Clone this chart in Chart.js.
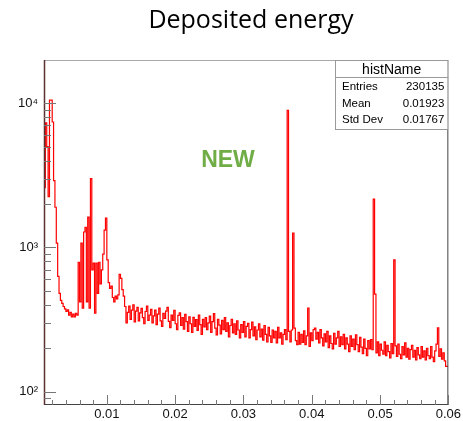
<!DOCTYPE html>
<html>
<head>
<meta charset="utf-8">
<script src="https://cdn.jsdelivr.net/npm/chart.js@4/dist/chart.umd.min.js"></script>
<style>
  body { margin: 0; background: #fff; }
  #wrap { width: 463px; height: 421px; }
</style>
</head>
<body>
<div id="wrap"><canvas id="c" width="463" height="421"></canvas></div>
<script>
// histogram: low edge of first bin, bin width, counts per bin
const binLow = 0.0008;
const binWidth = 0.0002;
const counts = [
  1300, 2600, 7300, 5000, 2250, 10500, 10500, 7400, 2900, 1900,
  1070, 630, 480, 430, 410, 390, 375, 360, 370, 340,
  355, 330, 345, 330, 350, 340, 790, 420, 1070, 380,
  1280, 1380, 420, 1620, 380, 3000, 700, 780, 350, 780,
  480, 790, 560, 700, 900, 1320, 1600, 820, 570, 520,
  540, 450, 420, 460, 440, 470, 650, 610, 510, 460,
  390, 300, 355, 392, 318, 368, 400, 305, 362, 385,
  310, 352, 378, 326, 296, 360, 392, 312, 340, 372,
  300, 336, 368, 292, 345, 380, 310, 284, 350, 322,
  362, 384, 308, 278, 340, 312, 366, 296, 270, 338,
  352, 288, 326, 272, 344, 306, 262, 330, 296, 258,
  328, 284, 316, 266, 340, 292, 250, 318, 282, 326,
  270, 300, 334, 258, 306, 348, 276, 248, 318, 290,
  252, 312, 270, 326, 262, 300, 240, 288, 318, 256,
  296, 250, 310, 268, 236, 292, 258, 306, 240, 284,
  298, 236, 270, 304, 244, 282, 230, 268, 296, 240,
  272, 228, 288, 250, 222, 280, 244, 220, 268, 236,
  262, 218, 280, 236, 256, 214, 250, 270, 230, 8900,
  262, 222, 268, 1260, 276, 226, 212, 258, 214, 250,
  220, 264, 212, 244, 380, 206, 256, 226, 270, 276,
  232, 258, 218, 270, 236, 208, 252, 222, 262, 202,
  244, 216, 198, 254, 214, 236, 262, 206, 240, 212,
  250, 198, 236, 214, 190, 244, 206, 232, 196, 248,
  212, 190, 238, 204, 184, 232, 200, 178, 226, 198,
  230, 196, 2160, 475, 186, 222, 178, 214, 194, 182,
  222, 178, 210, 190, 172, 216, 184, 820, 208, 176,
  214, 182, 170, 206, 180, 218, 174, 200, 168, 196,
  210, 174, 194, 166, 202, 180, 170, 206, 174, 192,
  166, 200, 178, 170, 206, 174, 162, 192, 214, 277,
  176, 198, 168, 186, 164, 150
];

const xTicks = [0.01, 0.02, 0.03, 0.04, 0.05, 0.06];
const xTickLabels = ['0.01', '0.02', '0.03', '0.04', '0.05', '0.06'];
const yTicks = [100, 1000, 10000];
const yTickLabels = ['10\u00b2', '10\u00b3', '10\u2074'];

const statLabels = ['Entries', 'Mean', 'Std Dev'];
const statValues = ['230135', '0.01923', '0.01767'];

// step outline: one point per bin low edge, plus the upper edge of the last bin
const points = counts.map((c, i) => ({ x: binLow + i * binWidth, y: c }));
points.push({ x: binLow + counts.length * binWidth, y: counts[counts.length - 1] });

Chart.defaults.font.family = "'Liberation Sans', Arial, sans-serif";
Chart.defaults.color = '#000';

const rootStyle = {
  id: 'rootStyle',
  afterDatasetsDraw(chart) {
    const { ctx, chartArea: a, scales: { x, y } } = chart;
    ctx.save();
    ctx.lineWidth = 1;

    // frame
    ctx.strokeStyle = '#a8a8a8';
    ctx.beginPath(); ctx.moveTo(a.left, a.top + 0.5); ctx.lineTo(a.right, a.top + 0.5); ctx.stroke();
    ctx.strokeStyle = '#444';
    ctx.beginPath(); ctx.moveTo(a.right - 0.5, a.top); ctx.lineTo(a.right - 0.5, a.bottom); ctx.stroke();
    ctx.beginPath(); ctx.moveTo(a.left, a.bottom - 0.5); ctx.lineTo(a.right, a.bottom - 0.5); ctx.stroke();
    ctx.strokeStyle = '#5a3030';
    ctx.lineWidth = 1.5;
    ctx.beginPath(); ctx.moveTo(a.left + 0.5, a.top); ctx.lineTo(a.left + 0.5, a.bottom); ctx.stroke();

    // x ticks, pointing into the frame
    ctx.lineWidth = 1;
    ctx.strokeStyle = '#777';
    for (let k = 1; k <= 30; k++) {
      const px = Math.round(x.getPixelForValue(k * 0.002)) + 0.5;
      const len = k % 5 === 0 ? 10 : 5;
      ctx.beginPath(); ctx.moveTo(px, a.bottom); ctx.lineTo(px, a.bottom - len); ctx.stroke();
    }
    // y ticks (log)
    [10, 100, 1000, 10000].forEach(d => {
      for (let m = 1; m <= 9; m++) {
        const v = d * m;
        if (v < y.min || v > y.max) continue;
        const py = Math.round(y.getPixelForValue(v)) + 0.5;
        const len = m === 1 ? 12 : 7;
        ctx.beginPath(); ctx.moveTo(a.left, py); ctx.lineTo(a.left + len, py); ctx.stroke();
      }
    });

    // title
    ctx.fillStyle = '#000';
    ctx.font = "25px 'Open Sans', sans-serif";
    ctx.textAlign = 'center';
    ctx.textBaseline = 'middle';
    ctx.fillText('Deposited energy', 251, 21);

    // NEW label
    ctx.fillStyle = '#70ad47';
    ctx.font = "bold 23px 'Liberation Sans', Arial, sans-serif";
    ctx.fillText('NEW', 228, 161);

    // stats box
    const bx = 335, by = a.top, bw = a.right - bx, bh = 70;
    ctx.fillStyle = '#fff';
    ctx.fillRect(bx, by, bw, bh);
    ctx.strokeStyle = '#999';
    ctx.strokeRect(bx + 0.5, by + 0.5, bw - 1, bh - 1);
    ctx.beginPath(); ctx.moveTo(bx, by + 17.5); ctx.lineTo(bx + bw, by + 17.5); ctx.stroke();
    ctx.fillStyle = '#000';
    ctx.font = "14px 'Liberation Sans', Arial, sans-serif";
    ctx.fillText('histName', bx + bw / 2, by + 10);
    ctx.font = "11.5px 'Liberation Sans', Arial, sans-serif";
    statLabels.forEach((s, i) => {
      const ty = by + 27 + i * 16.5;
      ctx.textAlign = 'left';
      ctx.fillText(s, bx + 7, ty);
      ctx.textAlign = 'right';
      ctx.fillText(statValues[i], bx + bw - 4, ty);
    });
    ctx.restore();
  }
};

new Chart(document.getElementById('c'), {
  type: 'line',
  data: {
    datasets: [{
      data: points,
      stepped: 'after',
      borderColor: '#ff0000',
      borderWidth: 1.2,
      pointRadius: 0,
      fill: false
    }]
  },
  options: {
    responsive: false,
    animation: false,
    layout: { padding: { top: 60, right: 13, left: 0, bottom: 0 } },
    plugins: { legend: { display: false }, tooltip: { enabled: false } },
    scales: {
      x: {
        type: 'linear',
        min: binLow,
        max: 0.06,
        grid: { display: false, drawTicks: false, tickLength: 0 },
        border: { display: false },
        afterBuildTicks: s => { s.ticks = xTicks.map(v => ({ value: v })); },
        afterFit: s => { s.height = 16; },
        ticks: {
          autoSkip: false,
          maxRotation: 0,
          padding: 2,
          font: { size: 13 },
          color: '#111',
          callback: (v) => xTickLabels[xTicks.indexOf(v)] ?? ''
        }
      },
      y: {
        type: 'logarithmic',
        min: 81,
        max: 19900,
        grid: { display: false, drawTicks: false, tickLength: 0 },
        border: { display: false },
        afterBuildTicks: s => { s.ticks = yTicks.map(v => ({ value: v })); },
        afterFit: s => { s.width = 44; },
        ticks: {
          padding: 6,
          font: { size: 13 },
          color: '#111',
          callback: (v) => yTickLabels[yTicks.indexOf(v)] ?? ''
        }
      }
    }
  },
  plugins: [rootStyle]
});
</script>
</body>
</html>
